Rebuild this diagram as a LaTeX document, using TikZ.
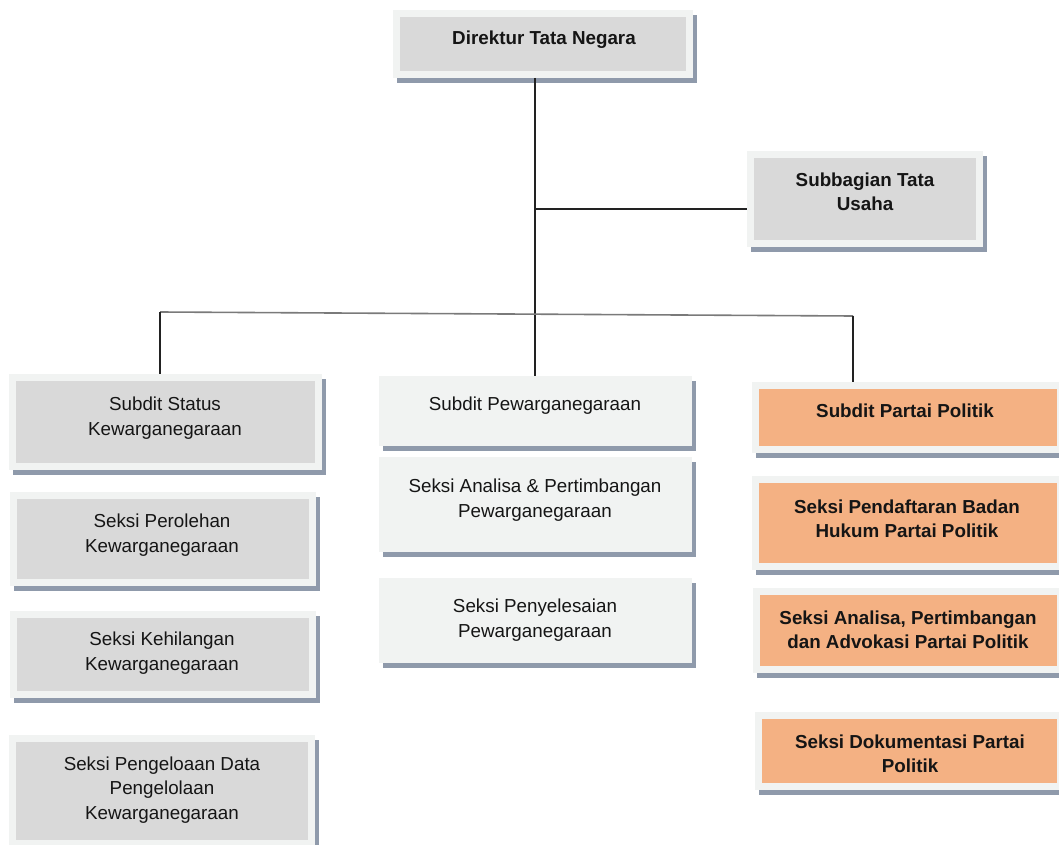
\documentclass[tikz,border=0pt]{standalone}
\usepackage{fontspec}
\setmainfont{Liberation Sans}
\definecolor{frameC}{HTML}{F1F3F2}
\definecolor{greyC}{HTML}{D9D9D9}
\definecolor{orangeC}{HTML}{F4B183}
\definecolor{shadowC}{HTML}{8F9AAB}
\definecolor{txtC}{HTML}{151515}
\definecolor{lineC}{HTML}{222222}
\definecolor{barC}{HTML}{7A7A7A}
\tikzset{
  frame/.style={fill=frameC, draw=none, inner sep=0pt, outer sep=0pt},
  txt/.style={text=txtC, align=center, inner sep=0pt, font=\fontsize{18.8}{24.5}\selectfont},
  btxt/.style={txt, font=\fontsize{18.8}{24.5}\selectfont\bfseries},
  conn/.style={draw=lineC, line width=1.8pt},
  bar/.style={draw=barC, line width=1.6pt},
}
% name, x1, y1, x2, y2, inner fill
\newcommand\orgbox[6]{%
  \fill[shadowC] (#2+4,#3+5) rectangle (#4+4,#5+5);
  \node[frame, minimum width={(#4-#2)*1pt}, minimum height={(#5-#3)*1pt}] (#1) at ({(#2+#4)/2},{(#3+#5)/2}) {};
  \fill[#6] (#2+7,#3+7) rectangle (#4-7,#5-7);
}
\begin{document}
\begin{tikzpicture}[x=1pt,y=-1pt]
\useasboundingbox (0,0) rectangle (1059,845);
\clip (0,0) rectangle (1059,845);
\fill[white] (0,0) rectangle (1059,845);

\coordinate (top) at (535,78);
\coordinate (j1) at (535,209);
\coordinate (bl) at (160,312);
\coordinate (br) at (853,316);

% boxes
\orgbox{d}{393}{10}{693}{78}{greyC}
\orgbox{sb}{747}{151}{983}{247}{greyC}
\orgbox{ss}{9}{374}{322}{470}{greyC}
\orgbox{sper}{10}{492}{316}{586}{greyC}
\orgbox{skeh}{10}{611}{316}{698}{greyC}
\orgbox{spg}{9}{735}{315}{847}{greyC}
\orgbox{pw}{379}{376}{692}{446}{frameC}
\orgbox{sa}{379}{457}{692}{552}{frameC}
\orgbox{spy}{379}{578}{692}{663}{frameC}
\orgbox{sp}{752}{382}{1064}{453}{orangeC}
\orgbox{spd}{752}{476}{1064}{570}{orangeC}
\orgbox{saa}{753}{588}{1064}{673}{orangeC}
\orgbox{sdk}{755}{712}{1064}{790}{orangeC}

% connectors
\draw[conn] (d.south -| top) -- (pw.north -| top);
\draw[conn, line width=1.5pt] (j1) -- (j1 -| sb.west);
\draw[bar] (bl) -- (br);
\draw[conn] (bl) -- (bl |- ss.north);
\draw[conn] (br) -- (br |- sp.north);

% texts
\node[btxt] (td) at (544,40) {Direktur Tata Negara};
\node[btxt] (tsb) at (865,192) {Subbagian Tata\\Usaha};
\node[txt] (tss) at (165,418) {Subdit Status\\Kewarganegaraan};
\node[txt] (tsper) at (162,535) {Seksi Perolehan\\Kewarganegaraan};
\node[txt] (tskeh) at (162,653) {Seksi Kehilangan\\Kewarganegaraan};
\node[txt] (tspg) at (162,790) {Seksi Pengeloaan Data\\Pengelolaan\\Kewarganegaraan};
\node[txt] (tpw) at (535,406) {Subdit Pewarganegaraan};
\node[txt] (tsa) at (535,500) {Seksi Analisa \& Pertimbangan\\Pewarganegaraan};
\node[txt] (tspy) at (535,620) {Seksi Penyelesaian\\Pewarganegaraan};
\node[btxt] (tsp) at (905,411) {Subdit Partai Politik};
\node[btxt] (tspd) at (907,519) {Seksi Pendaftaran Badan\\Hukum Partai Politik};
\node[btxt] (tsaa) at (908,630) {Seksi Analisa, Pertimbangan\\dan Advokasi Partai Politik};
\node[btxt] (tsdk) at (910,754) {Seksi Dokumentasi Partai\\Politik};
\end{tikzpicture}
\end{document}
